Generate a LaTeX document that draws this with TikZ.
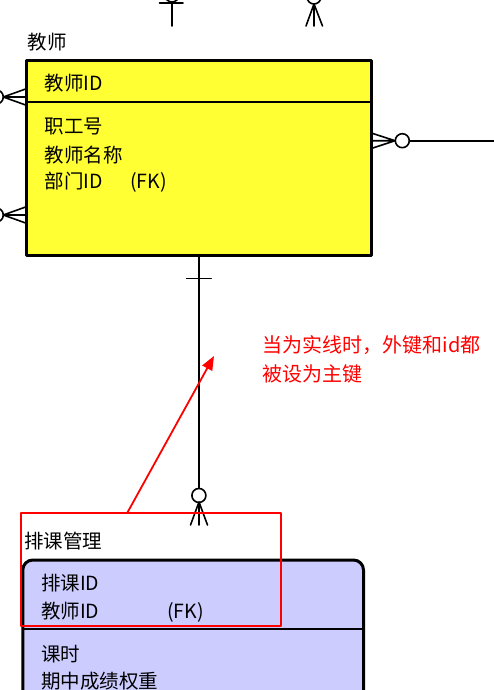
\documentclass[tikz,border=0pt]{standalone}
\usepackage{fontspec}
\setmainfont{Noto Sans CJK SC}
\usetikzlibrary{positioning,arrows.meta}
\definecolor{teacheryellow}{RGB}{255,255,51}
\definecolor{schedblue}{RGB}{204,204,255}
\tikzset{
  entity/.style={draw=black,line width=3pt,outer sep=0pt,inner sep=0pt},
  attr/.style={anchor=base west,inner sep=0pt},
  rel/.style={line width=1.6pt},
  remark/.style={red,line width=1.8pt}
}
\begin{document}
\begin{tikzpicture}[x=1pt,y=-1pt,line join=round,line cap=round,font=\fontsize{19.5}{24}\selectfont]
	\useasboundingbox (0,0) rectangle (494,690);
	\clip (0,0) rectangle (494,690);
	\def\tx{44.3} \def\sx{41} % Spalte der Attribute
	% 教师
	\node[entity,fill=teacheryellow,minimum width=344.3pt,minimum height=194.5pt] (teacher) at (198.9,158.2) {};
	\draw[line width=1.5pt] ([yshift=-41pt]teacher.north west) -- ([yshift=-41pt]teacher.north east);
	\node[attr] (ttitle) at (27.7,50) {教师};
	\node[attr] (tid) at (\tx,91) {教师ID};
	\node[attr] (tno) at (\tx,133) {职工号};
	\node[attr] (tname) at (\tx,162) {教师名称};
	\node[attr] (tdept) at (\tx,188) {部门ID};
	\node[attr] (tfk) at (130,188) {(FK)};
	% 排课管理
	\node[entity,fill=schedblue,rounded corners=10pt,minimum width=340.7pt,minimum height=240pt,anchor=north west] (sched) at (22.8,560) {};
	\draw[line width=1.5pt] ([yshift=-69pt]sched.north west) -- ([yshift=-69pt]sched.north east);
	\node[attr] (stitle) at (24,548) {排课管理};
	\node[attr] (sid) at (\sx,590) {排课ID};
	\node[attr] (stid) at (\sx,618) {教师ID};
	\node[attr] (sfk) at (167,618) {(FK)};
	\node[attr] (shours) at (\sx,661) {课时};
	\node[attr] (sweight) at (\sx,688) {期中成绩权重};
	% 教师 -- 排课管理
	\coordinate (fk) at (199,525);
	\draw[rel] (teacher.south) -- ++(0,233) coordinate (c1);
	\draw[rel] ([yshift=-23pt]teacher.south) ++(-12.3,0) -- ++(24.6,0);
	\draw[rel] ([yshift=-7pt]c1) circle (7);
	\draw[rel] (190.5,525) -- (199,502) -- (207.5,525) (199,502) -- (fk);
	% nach oben
	\coordinate (up1) at (172,26); \coordinate (up2) at (314,26);
	\draw[rel] (up1) -- (172,3) (159.5,3) -- (183,3);
	\draw[rel] (172,-5) circle (7);
	\draw[rel] (306,26) -- (314,4) -- (322.5,26) (314,4) -- (up2);
	\draw[rel] (314,-3) circle (7);
	% rechts
	\coordinate (right) at (494,140.7);
	\draw[rel] ([yshift=-72pt]teacher.north east) -- (395,140.7) -- (372,148.3) (372,140.7) -- (395,140.7);
	\draw[rel] (402.3,140.7) circle (7);
	\draw[rel] (409.3,140.7) -- (right);
	% links
	\foreach \y in {97,215}{
		\draw[rel] (26.7,\y-8.4) -- (3.3,\y) -- (26.7,\y+8.4) (26.7,\y) -- (3.3,\y);
		\draw[rel] (-3.7,\y) circle (7);
	}
	% Hinweis
	\node[draw=red,line width=1.8pt,outer sep=0pt,minimum width=259.7pt,minimum height=112.7pt,anchor=north west] (pk) at (21,513.3) {};
	\coordinate (tip) at (214,356);
	\draw[remark,-{Triangle[length=14pt,width=11pt]}] ([xshift=106pt]pk.north west) -- (tip);
	\node[attr,red,font=\fontsize{20}{24}\selectfont] (note1) at (262.5,352) {当为实线时，外键和id都};
	\node[attr,red,font=\fontsize{20}{24}\selectfont] (note2) at (262.5,381) {被设为主键};
\end{tikzpicture}
\end{document}
